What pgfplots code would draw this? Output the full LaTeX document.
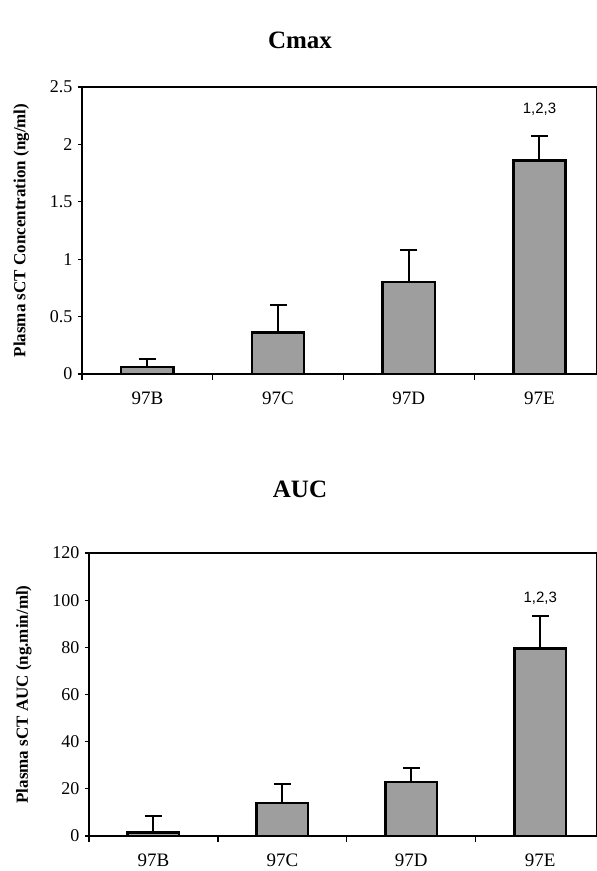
\documentclass[border=0pt]{standalone}
\usepackage{fontspec}
\setmainfont{Liberation Serif}
\newfontfamily\arialf{Liberation Sans}
\usepackage{pgfplots}
\pgfplotsset{compat=1.18}

\pgfplotsset{
  sctbars/.style={
    scale only axis,
    ybar,
    bar width=0.40,
    xmin=-0.5, xmax=3.44,
    ymin=0,
    axis line style={line width=2.4pt},
    xtick={0,1,2,3},
    xticklabels={97B,97C,97D,97E},
    major x tick style={draw=none},
    minor xtick={-0.5,0.5,1.5,2.5},
    minor tick length=6pt,
    every tick/.style={black, line width=1.2pt},
    tick align=outside,
    major tick length=4pt,
    ytick pos=left,
    xtick pos=bottom,
    yticklabel style={font=\fontsize{18}{20}\selectfont, xshift=-2pt},
    xticklabel style={font=\fontsize{19}{21}\selectfont, yshift=-10pt},
    /pgf/number format/assume math mode=true,
    ylabel style={font=\fontsize{17}{19}\selectfont\bfseries, yshift=14pt},
    error bars/y dir=plus,
    error bars/y explicit,
    error bars/error bar style={line width=2pt, black},
    error bars/error mark options={rotate=90, line width=2pt, mark size=8.5pt, black},
  },
}

\begin{document}
\begin{tikzpicture}
\useasboundingbox (0,0) rectangle (597pt,-871pt);

\node[font=\fontsize{25}{28}\selectfont\bfseries] at (300pt,-40pt) {Cmax};
\begin{axis}[sctbars,
    at={(82pt,-87pt)}, anchor=north west,
    width=515pt, height=287pt,
    ymax=2.5,
    ytick={0,0.5,1,1.5,2,2.5},
    yticklabels={0,0.5,1,1.5,2,2.5},
    ylabel={Plasma sCT Concentration (ng/ml)},
]
\addplot[fill=black!38, draw=black, line width=2.4pt]
  coordinates {(0,0.06) +- (0,0.07) (1,0.36) +- (0,0.24) (2,0.80) +- (0,0.28) (3,1.86) +- (0,0.21)};
\node[font=\arialf\fontsize{15}{17}\selectfont] at (axis cs:3,2.31) {1,2,3};
\end{axis}

\node[font=\fontsize{25}{28}\selectfont\bfseries] at (300pt,-489pt) {AUC};
\begin{axis}[sctbars,
    at={(89pt,-553pt)}, anchor=north west,
    width=508pt, height=283pt,
    ymax=120,
    ytick={0,20,40,60,80,100,120},
    ylabel={Plasma sCT AUC (ng.min/ml)},
]
\addplot[fill=black!38, draw=black, line width=2.4pt]
  coordinates {(0,1.5) +- (0,7) (1,14) +- (0,8) (2,23) +- (0,6) (3,79.5) +- (0,14)};
\node[font=\arialf\fontsize{15}{17}\selectfont] at (axis cs:3,101) {1,2,3};
\end{axis}
\end{tikzpicture}
\end{document}
